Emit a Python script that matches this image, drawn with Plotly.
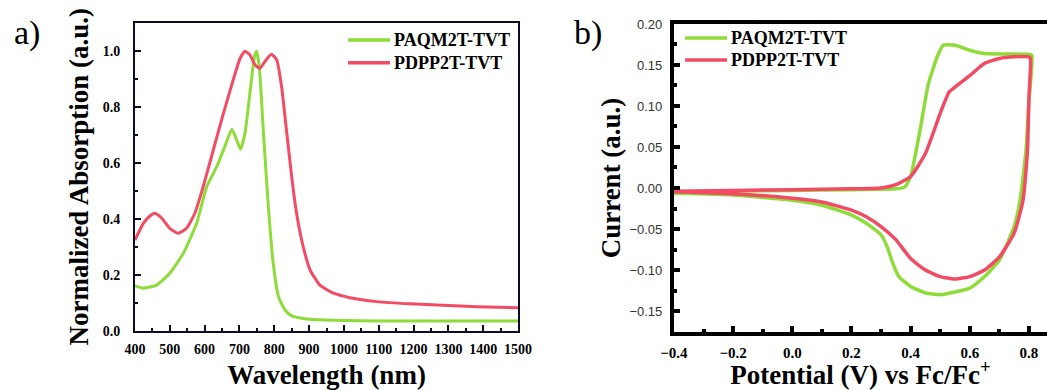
import plotly.graph_objects as go

# ---- (a) UV-vis-NIR absorption spectra ----
wl_paqm = [400, 424, 462, 500, 539, 577, 606, 635, 658, 678, 692, 703, 716, 730, 743,
           749, 757, 769, 783, 797, 812, 831, 850, 883, 950, 1094, 1500]
abs_paqm = [0.161, 0.153, 0.164, 0.206, 0.278, 0.385, 0.516, 0.588, 0.659, 0.721, 0.683,
            0.650, 0.707, 0.850, 0.980, 1.000, 0.945, 0.707, 0.445, 0.242, 0.123, 0.075,
            0.054, 0.045, 0.039, 0.036, 0.036]

wl_pdpp = [400, 424, 443, 457, 477, 500, 524, 548, 572, 596, 625, 654, 682, 702, 716,
           730, 745, 759, 773, 792, 807, 821, 836, 850, 864, 883, 903, 931, 970, 1017,
           1094, 1189, 1285, 1381, 1500]
abs_pdpp = [0.325, 0.385, 0.411, 0.421, 0.403, 0.367, 0.349, 0.367, 0.421, 0.516, 0.647,
            0.778, 0.897, 0.975, 1.000, 0.987, 0.951, 0.939, 0.963, 0.989, 0.969, 0.874,
            0.707, 0.552, 0.421, 0.302, 0.218, 0.164, 0.135, 0.119, 0.105, 0.097, 0.092,
            0.087, 0.083]

# ---- (b) cyclic voltammograms (forward scan then reverse scan) ----
pot_paqm = [-0.40, -0.20, 0.00, 0.20, 0.35, 0.38, 0.40, 0.43, 0.46, 0.49, 0.51, 0.55,
            0.60, 0.65, 0.80, 0.81,
            0.80, 0.79, 0.77, 0.75, 0.70, 0.65, 0.60, 0.50, 0.45, 0.40, 0.36, 0.34,
            0.32, 0.30, 0.25, 0.20, 0.10, 0.00, -0.20, -0.40]
cur_paqm = [-0.006, -0.004, -0.003, -0.002, -0.001, 0.001, 0.014, 0.067, 0.127, 0.160,
            0.174, 0.174, 0.168, 0.164, 0.163, 0.162,
            0.107, 0.046, -0.015, -0.047, -0.088, -0.108, -0.122, -0.130, -0.128, -0.120,
            -0.108, -0.092, -0.071, -0.057, -0.043, -0.033, -0.021, -0.015, -0.0085,
            -0.0065]

pot_pdpp = [-0.40, -0.20, 0.00, 0.20, 0.30, 0.35, 0.40, 0.45, 0.50, 0.53, 0.55, 0.60,
            0.65, 0.70, 0.75, 0.80, 0.805,
            0.80, 0.795, 0.78, 0.75, 0.70, 0.65, 0.60, 0.55, 0.50, 0.45, 0.40, 0.35,
            0.30, 0.25, 0.20, 0.10, 0.00, -0.20, -0.40]
cur_pdpp = [-0.004, -0.003, -0.002, -0.001, 0.000, 0.004, 0.014, 0.042, 0.091, 0.117,
            0.123, 0.137, 0.152, 0.158, 0.160, 0.160, 0.158,
            0.110, 0.046, -0.015, -0.055, -0.084, -0.100, -0.108, -0.111, -0.108, -0.100,
            -0.086, -0.063, -0.047, -0.035, -0.027, -0.017, -0.0125, -0.007, -0.0045]

series_names = ["PAQM2T-TVT", "PDPP2T-TVT"]

# tick positions (major carry labels, minor are bare)
a_xticks = [400, 500, 600, 700, 800, 900, 1000, 1100, 1200, 1300, 1400, 1500]
a_xminor = [450, 550, 650, 750, 850, 950, 1050, 1150, 1250, 1350, 1450]
a_yticks = [0.0, 0.2, 0.4, 0.6, 0.8, 1.0]
a_yminor = [0.1, 0.3, 0.5, 0.7, 0.9, 1.1]
b_xticks = [-0.4, -0.2, 0.0, 0.2, 0.4, 0.6, 0.8]
b_xminor = [-0.3, -0.1, 0.1, 0.3, 0.5, 0.7]
b_yticks = [-0.15, -0.10, -0.05, 0.00, 0.05, 0.10, 0.15, 0.20]
b_yminor = [-0.175, -0.125, -0.075, -0.025, 0.025, 0.075, 0.125, 0.175]

GREEN = "#8EDC3A"
RED = "#F24B63"
SERIF = "Liberation Serif"
SANS = "Liberation Sans"
colors = [GREEN, RED]

A_DOM_X, A_DOM_Y = [0.1289, 0.4948], [0.1513, 0.9418]
B_DOM_X, B_DOM_Y = [0.6437, 1.0], [0.1487, 0.9385]

fig = go.Figure()

fig.add_trace(go.Scatter(x=wl_paqm, y=abs_paqm, mode="lines", name=series_names[0],
                         line=dict(color=GREEN, width=3, shape="spline", smoothing=0.5),
                         xaxis="x", yaxis="y", showlegend=False))
fig.add_trace(go.Scatter(x=wl_pdpp, y=abs_pdpp, mode="lines", name=series_names[1],
                         line=dict(color=RED, width=3, shape="spline", smoothing=0.5),
                         xaxis="x", yaxis="y", showlegend=False))
fig.add_trace(go.Scatter(x=pot_paqm, y=cur_paqm, mode="lines", name=series_names[0],
                         line=dict(color=GREEN, width=3.5, shape="spline", smoothing=0.5),
                         xaxis="x2", yaxis="y2", showlegend=False))
fig.add_trace(go.Scatter(x=pot_pdpp, y=cur_pdpp, mode="lines", name=series_names[1],
                         line=dict(color=RED, width=3.5, shape="spline", smoothing=0.5),
                         xaxis="x2", yaxis="y2", showlegend=False))

bold_serif = dict(family=SERIF, size=14, color="black", weight="bold")
title_font = dict(family=SERIF, size=27, color="black", weight="bold")


def axis_style(color, width):
    return dict(showline=True, linewidth=width, linecolor=color, ticks="inside",
                ticklen=6, tickwidth=width, tickcolor=color, showgrid=False,
                zeroline=False, automargin=False, tickmode="array")


def minor_ticks(vals, color, width):
    return dict(tickvals=vals, ticks="inside", ticklen=3, tickwidth=width,
                tickcolor=color, showgrid=False)


A_AX = "#0a0a2a"   # panel (a) frame colour
B_AX = "#000000"   # panel (b) frame colour

fig.update_layout(
    width=1047, height=390,
    margin=dict(l=0, r=0, t=0, b=0, autoexpand=False),
    paper_bgcolor="white", plot_bgcolor="white",
    showlegend=False,
    xaxis=dict(domain=A_DOM_X, range=[400, 1500], tickvals=a_xticks,
               anchor="y", tickfont=bold_serif, ticklabelstandoff=4, mirror=True,
               minor=minor_ticks(a_xminor, A_AX, 2),
               title=dict(text="Wavelength (nm)", font=title_font, standoff=18),
               **axis_style(A_AX, 2)),
    yaxis=dict(domain=A_DOM_Y, range=[0, 1.102], tickvals=a_yticks,
               tickformat=".1f", anchor="x", tickfont=bold_serif, mirror=True,
               ticklabelstandoff=10, minor=minor_ticks(a_yminor, A_AX, 2),
               title=dict(text="Normalized Absorption (a.u.)", font=title_font,
                          standoff=6),
               **axis_style(A_AX, 2)),
    xaxis2=dict(domain=B_DOM_X, range=[-0.4, 0.861], tickvals=b_xticks,
                tickformat=".1f", anchor="y2", ticklabelstandoff=4, mirror=True,
                minor=minor_ticks(b_xminor, B_AX, 4),
                tickfont=dict(family=SERIF, size=15, color="black", weight="bold"),
                title=dict(text="Potential (V) vs Fc/Fc<sup>+</sup>", font=title_font,
                           standoff=12),
                **axis_style(B_AX, 4)),
    yaxis2=dict(domain=B_DOM_Y, range=[-0.1756, 0.2], tickvals=b_yticks,
                tickformat=".2f", anchor="x2", ticklabelstandoff=5,
                minor=minor_ticks(b_yminor, B_AX, 4),
                tickfont=dict(family=SANS, size=13, color="#333333"),
                title=dict(text="Current (a.u.)", font=title_font, standoff=2),
                **axis_style(B_AX, 4)),
)

# Legend keys: short coloured strokes with bold labels, one block per panel
legend_blocks = [
    dict(x0=0.3324, x1=0.3725, ys=[0.8974, 0.8392]),
    dict(x0=0.6543, x1=0.6944, ys=[0.9026, 0.8462]),
]
for blk in legend_blocks:
    for name, col, yy in zip(series_names, colors, blk["ys"]):
        fig.add_shape(type="line", xref="paper", yref="paper",
                      x0=blk["x0"], x1=blk["x1"], y0=yy, y1=yy,
                      line=dict(color=col, width=3.5))
        fig.add_annotation(text=name, xref="paper", yref="paper",
                           x=blk["x1"] + 0.002, y=yy, xanchor="left", yanchor="middle",
                           showarrow=False,
                           font=dict(family=SERIF, size=18, color="black",
                                     weight="bold"))

# Panel letters
for letter, px in [("a)", 0.011), ("b)", 0.546)]:
    fig.add_annotation(text=letter, x=px, y=0.97, xref="paper", yref="paper",
                       xanchor="left", yanchor="top", showarrow=False,
                       font=dict(family=SERIF, size=34, color="black"))

fig.write_html("out.html")
